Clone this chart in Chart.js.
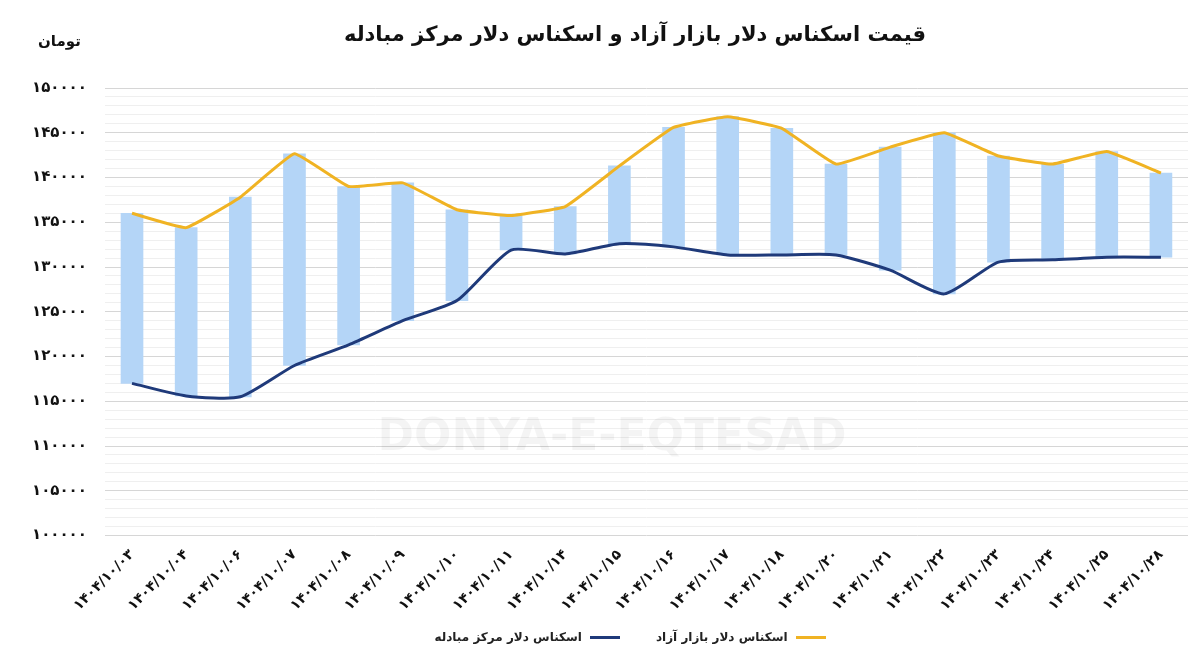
<!DOCTYPE html>
<html><head><meta charset="utf-8">
<script src="https://cdn.jsdelivr.net/npm/chart.js@4.4.1/dist/chart.umd.min.js"></script>
<style>
html,body{margin:0;background:#fff;}
#wrap{position:relative;width:1200px;height:659px;}
#title{position:absolute;top:22px;left:0;width:1270px;text-align:center;font:bold 21px "DejaVu Sans";color:#111;direction:rtl;}
#unit{position:absolute;top:32px;left:38px;font:bold 15px "DejaVu Sans";color:#111;}
#legend{position:absolute;top:630px;left:0;width:1260px;text-align:center;font:bold 12px "DejaVu Sans";color:#222;direction:rtl;}
#legend span{display:inline-block;margin:0 18px;}
#legend i{display:inline-block;width:30px;height:3px;vertical-align:middle;margin-left:8px;}
</style></head><body>
<div id="wrap">
<canvas id="c" width="1200" height="659"></canvas>
<div id="title">قیمت اسکناس دلار بازار آزاد و اسکناس دلار مرکز مبادله</div>
<div id="unit">تومان</div>
<div id="legend"><span><i style="background:#f0b323"></i>اسکناس دلار بازار آزاد</span><span><i style="background:#1f3a7a"></i>اسکناس دلار مرکز مبادله</span></div>
</div>
<script>
const DAYS = ['03','04','06','07','08','09','10','11','14','15','16','17','18','20','21','22','23','24','25','28'];
const FREE = [136000,134400,137800,142650,139000,139400,136400,135750,136750,141300,145600,146800,145500,141500,143400,145000,142400,141500,142900,140500];
const CENTER = [117000,115600,115500,119000,121300,124000,126250,131900,131450,132600,132250,131350,131350,131350,129650,127000,130550,130800,131100,131100];

const fa = s => String(s).replace(/\d/g, d => '۰۱۲۳۴۵۶۷۸۹'[d]);
const LABELS = DAYS.map(d => fa('1404/10/' + d));

const watermark = {
  id: 'wm',
  beforeDatasetsDraw(ch) {
    const c = ch.ctx;
    c.save();
    c.font = 'bold 44px "DejaVu Sans"';
    c.fillStyle = 'rgba(0,0,0,0.045)';
    c.textAlign = 'center';
    c.fillText('DONYA-E-EQTESAD', 612, 450);
    c.restore();
  }
};

new Chart(document.getElementById('c'), {
  data: {
    labels: LABELS,
    datasets: [
      { type: 'line', data: CENTER, borderColor: '#1f3a7a', borderWidth: 3, pointRadius: 0, tension: 0.2, order: 0 },
      { type: 'line', data: FREE, borderColor: '#f0b323', borderWidth: 3, pointRadius: 0, tension: 0.1, order: 0 },
      { type: 'bar', data: FREE.map((v, i) => [CENTER[i], v]), backgroundColor: '#b4d5f7', barThickness: 22, order: 1 }
    ]
  },
  options: {
    responsive: false, animation: false,
    layout: { padding: { top: 88, right: 12, bottom: 42, left: 14 } },
    plugins: { legend: { display: false }, tooltip: { enabled: false } },
    scales: {
      x: {
        offset: true, grid: { display: false }, border: { display: false },
        ticks: { maxRotation: 45, minRotation: 45, color: '#111', font: { family: 'DejaVu Sans', size: 14, weight: 'bold' } }
      },
      y: {
        min: 100000, max: 150000, border: { display: false },
        ticks: {
          stepSize: 1000, autoSkip: false, padding: 18, color: '#111',
          font: { family: 'DejaVu Sans', size: 15, weight: 'bold' },
          callback: v => v % 5000 === 0 ? fa(v) : ''
        },
        grid: { color: ctx => ctx.tick && ctx.tick.value % 5000 === 0 ? '#d6d6d6' : '#efefef', drawTicks: false }
      }
    }
  },
  plugins: [watermark]
});
</script>
</body></html>
